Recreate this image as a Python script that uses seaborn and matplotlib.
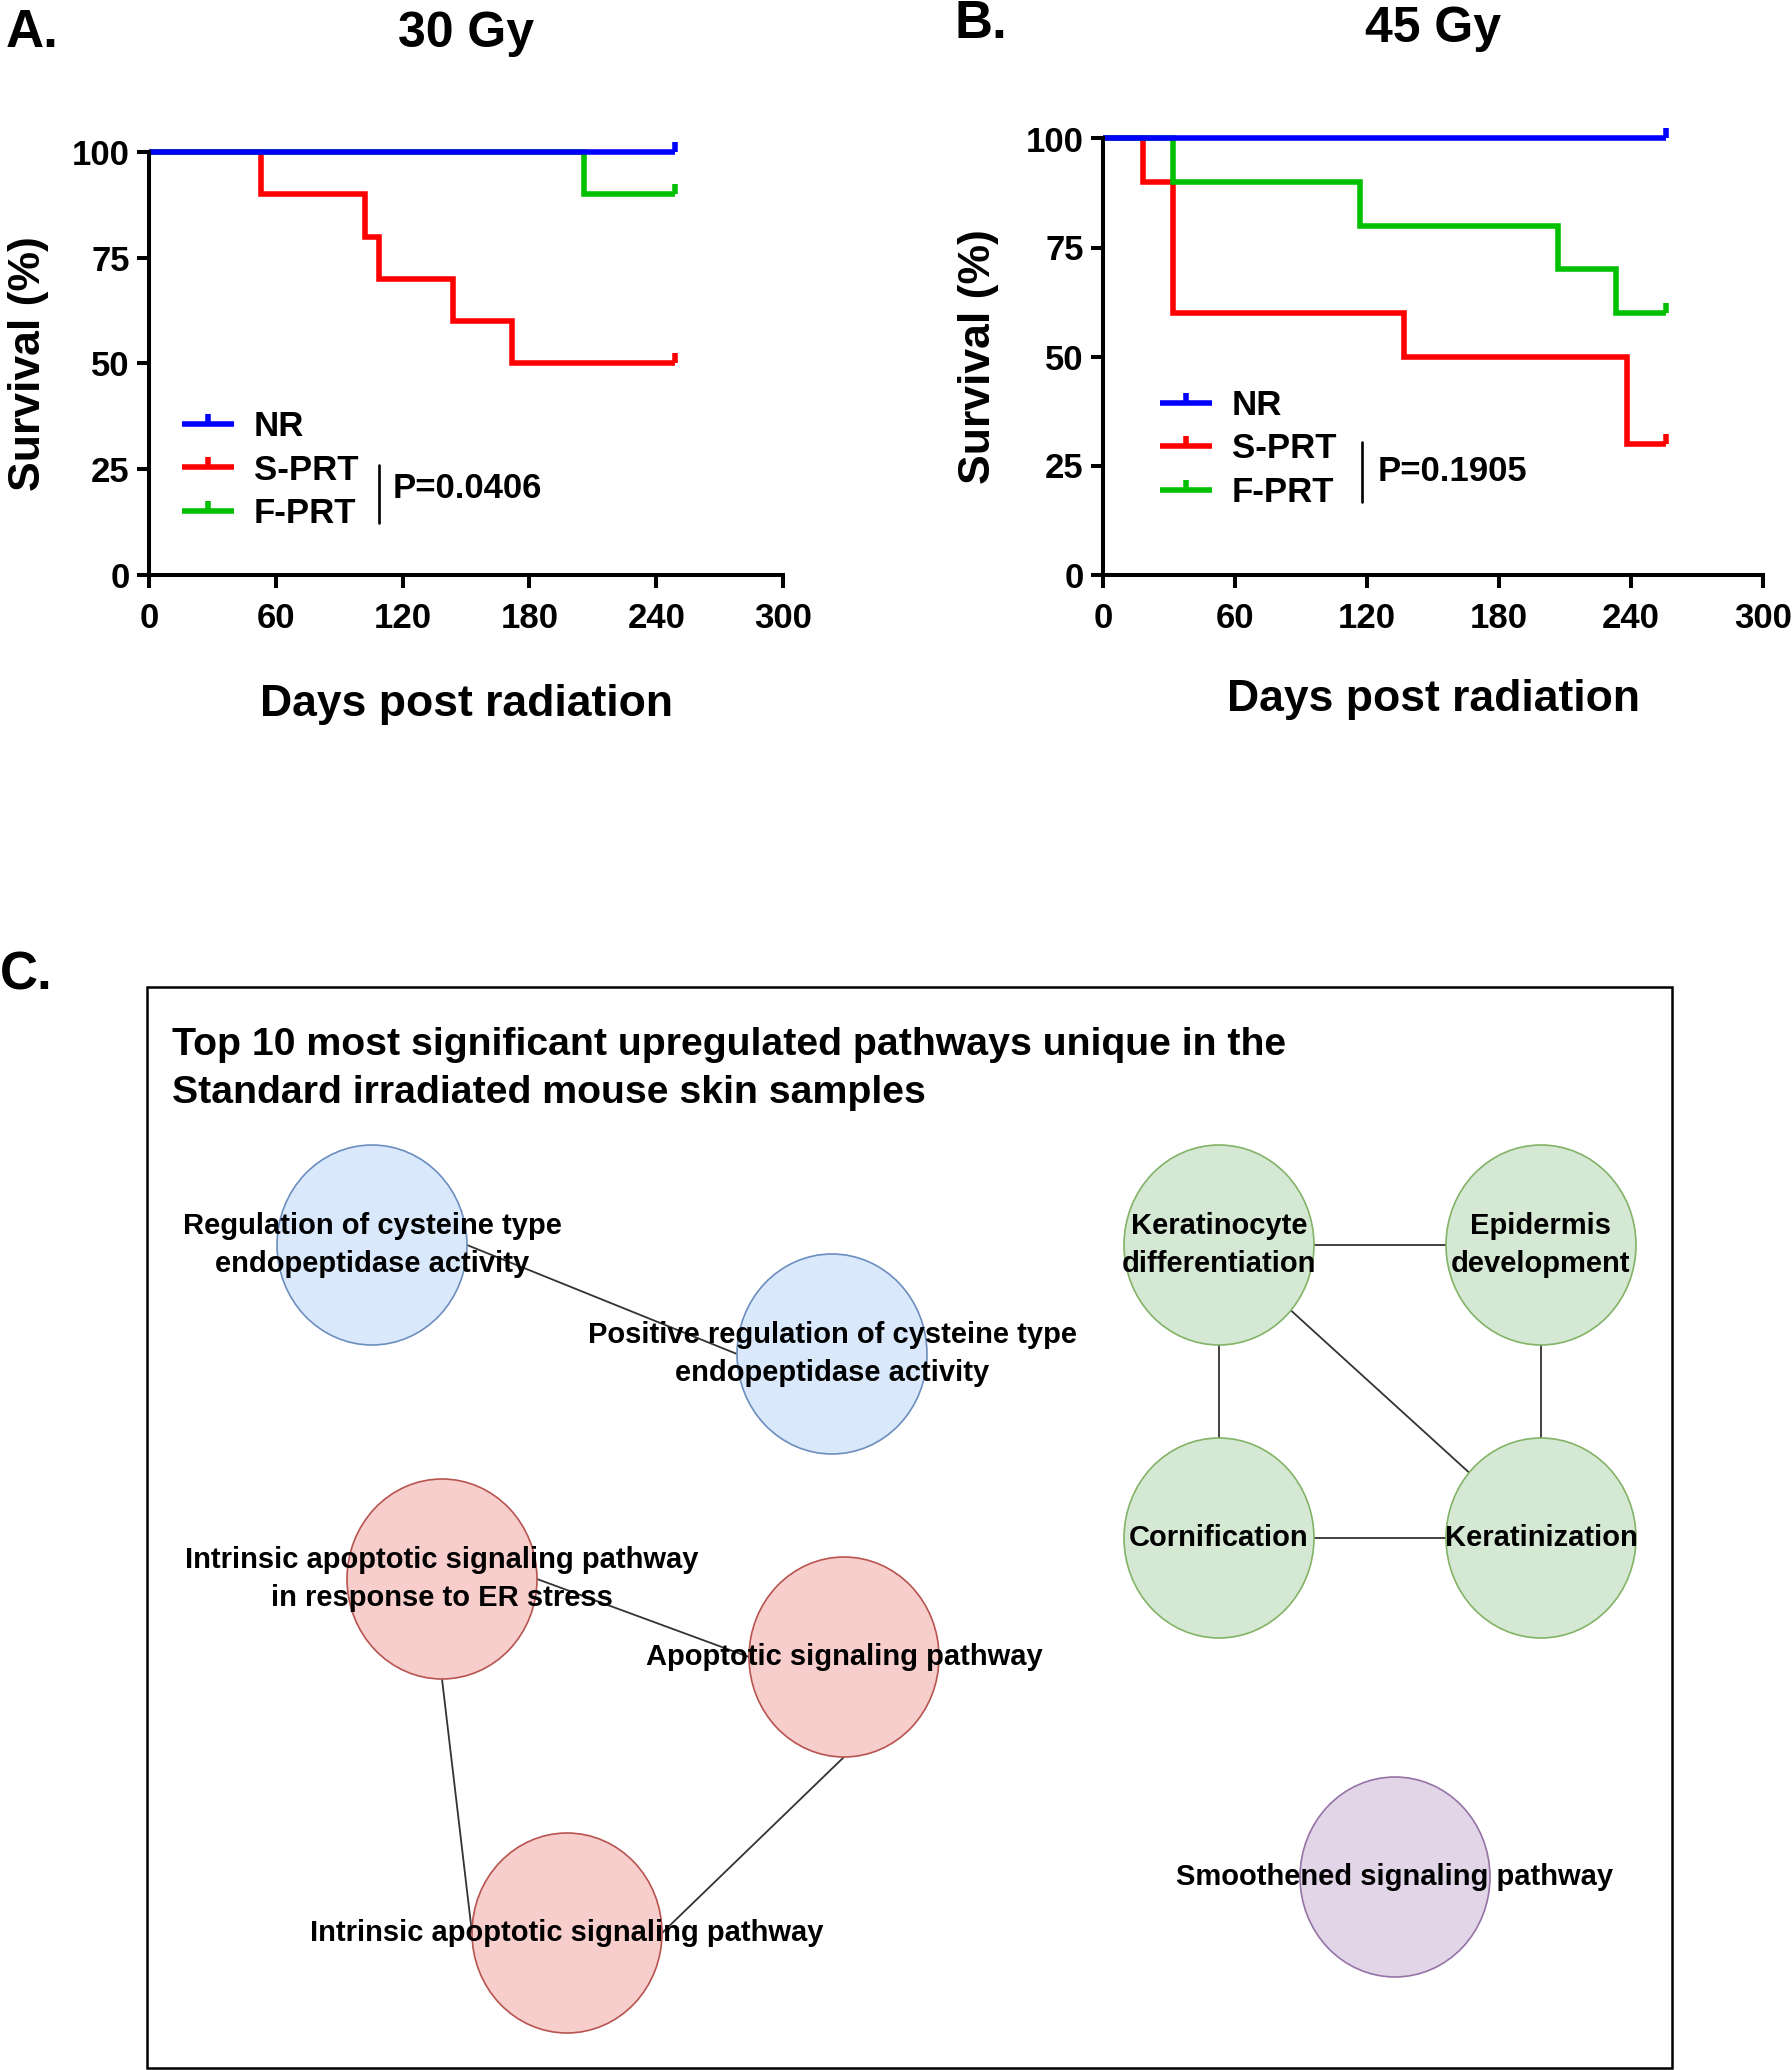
import numpy as np
import pandas as pd
import matplotlib
matplotlib.use("Agg")
import matplotlib.pyplot as plt
from matplotlib.patches import Ellipse, Rectangle
from matplotlib.lines import Line2D
import seaborn as sns

# --- Kaplan-Meier data (days, % survival) ---
groups = ["NR", "S-PRT", "F-PRT"]
colors = {"NR": "#0000FF", "S-PRT": "#FF0000", "F-PRT": "#00C000"}

days_30_nr = [0, 249]
surv_30_nr = [100, 100]
days_30_s = [0, 53, 102, 109, 144, 172, 249]
surv_30_s = [100, 90, 80, 70, 60, 50, 50]
days_30_f = [0, 206, 249]
surv_30_f = [100, 90, 90]

days_45_nr = [0, 256]
surv_45_nr = [100, 100]
days_45_s = [0, 18, 32, 137, 238, 256]
surv_45_s = [100, 90, 60, 50, 30, 30]
days_45_f = [0, 32, 117, 207, 233, 256]
surv_45_f = [100, 90, 80, 70, 60, 60]

p_30 = "P=0.0406"
p_45 = "P=0.1905"

x_ticks = [0, 60, 120, 180, 240, 300]
y_ticks = [0, 25, 50, 75, 100]

# --- pathway network ---
node_names = [
    "Regulation of cysteine type\nendopeptidase activity",
    "Positive regulation of cysteine type\nendopeptidase activity",
    "Keratinocyte\ndifferentiation",
    "Epidermis\ndevelopment",
    "Cornification",
    "Keratinization",
    "Intrinsic apoptotic signaling pathway\nin response to ER stress",
    "Apoptotic signaling pathway",
    "Intrinsic apoptotic signaling pathway",
    "Smoothened signaling pathway",
]
node_cluster = ["blue", "blue", "green", "green", "green", "green",
                "red", "red", "red", "purple"]
# (source, target, side on source, side on target)
edges = [
    (0, 1, "right", "left"),
    (2, 3, "right", "left"),
    (2, 4, "bottom", "top"),
    (3, 5, "bottom", "top"),
    (4, 5, "right", "left"),
    (2, 5, "auto", "auto"),
    (6, 7, "right", "left"),
    (6, 8, "bottom", "left"),
    (7, 8, "bottom", "right"),
]

# layout of the diagram in figure pixels
node_x = [372, 832, 1219, 1541, 1219, 1541, 442, 844, 567, 1395]
node_y = [1245, 1354, 1245, 1245, 1538, 1538, 1579, 1657, 1933, 1877]
RX, RY = 95, 100
fills = {"blue": "#dae8fc", "green": "#d5e8d4", "red": "#f8cecc", "purple": "#e1d5e7"}
strokes = {"blue": "#6c8ebf", "green": "#82b366", "red": "#b85450", "purple": "#9673a6"}

sns.set_style("ticks")
plt.rcParams["font.family"] = ["Liberation Sans", "DejaVu Sans"]
plt.rcParams["font.weight"] = "bold"
for key in ["text.color", "axes.labelcolor", "xtick.color", "ytick.color", "axes.edgecolor"]:
    plt.rcParams[key] = "black"

W, H = 1792, 2070
fig = plt.figure(figsize=(W / 100, H / 100), dpi=100)
LW = 4.0


def km_frame(days, survs):
    parts = [pd.DataFrame({"day": d, "survival": s, "group": g})
             for g, d, s in zip(groups, days, survs)]
    return pd.concat(parts, ignore_index=True)


def km_panel(rect, df, title, title_y, pval, leg_xy, bar_x, bar_y, txt_xy, xlab_y):
    ax = fig.add_axes(rect)
    sns.lineplot(data=df, x="day", y="survival", hue="group",
                 hue_order=["S-PRT", "F-PRT", "NR"], palette=colors,
                 drawstyle="steps-post", estimator=None, sort=False,
                 lw=LW, legend=False, clip_on=False,
                 solid_joinstyle="miter", solid_capstyle="butt", ax=ax)
    # censor ticks at the end of each curve
    for g in ["S-PRT", "F-PRT", "NR"]:
        sub = df[df["group"] == g]
        ax.plot(sub["day"].iloc[-1], sub["survival"].iloc[-1], marker=2,
                ms=7.5, mew=LW, color=colors[g], clip_on=False, ls="none")
    ax.set_xlim(0, 300)
    ax.set_ylim(0, 100)
    ax.set_xticks(x_ticks)
    ax.set_yticks(y_ticks)
    sns.despine(ax=ax)
    for s in ["left", "bottom"]:
        ax.spines[s].set_linewidth(2.9)
    ax.tick_params(width=2.9, length=9, labelsize=25)
    ax.tick_params(axis="x", pad=11)
    ax.tick_params(axis="y", pad=5)
    for lab in ax.get_xticklabels() + ax.get_yticklabels():
        lab.set_fontweight("bold")
    ax.set_xlabel("Days post radiation", fontsize=32, fontweight="bold")
    ax.set_ylabel("Survival (%)", fontsize=32, fontweight="bold")
    ax.xaxis.set_label_coords(0.5, xlab_y)
    ax.yaxis.set_label_coords(-0.157, 0.5)
    ax.text(0.5, title_y, title, transform=ax.transAxes, ha="center",
            va="center", fontsize=36, fontweight="bold")
    handles = [Line2D([0], [0], color=colors[g], lw=LW, marker=2, ms=7.5,
                      mew=LW, solid_capstyle="butt") for g in groups]
    ax.legend(handles, groups, loc="center left", bbox_to_anchor=leg_xy,
              frameon=False, handlelength=1.5, handletextpad=0.57,
              labelspacing=0.31, borderpad=0, borderaxespad=0, numpoints=1,
              prop={"size": 25, "weight": "bold"})
    ax.plot([bar_x, bar_x], bar_y, color="black", lw=1.9, clip_on=False)
    ax.text(txt_xy[0], txt_xy[1], pval, ha="left", va="center",
            fontsize=25, fontweight="bold")
    return ax


df30 = km_frame([days_30_nr, days_30_s, days_30_f], [surv_30_nr, surv_30_s, surv_30_f])
df45 = km_frame([days_45_nr, days_45_s, days_45_f], [surv_45_nr, surv_45_s, surv_45_f])

km_panel([149 / W, 1 - 574.5 / H, 634 / W, 422.5 / H], df30, "30 Gy", 1.28,
         p_30, (0.052, 0.247), 109, [12.2, 25.9], (115.5, 20.3), -0.259)
km_panel([1103 / W, 1 - 574.5 / H, 660 / W, 436 / H], df45, "45 Gy", 1.25,
         p_45, (0.086, 0.288), 117.6, [16.7, 30.3], (124.8, 23.6), -0.24)

# --- panel C: network diagram in pixel coordinates ---
axc = fig.add_axes([0, 0, 1, 1], zorder=-1)
axc.set_xlim(0, W)
axc.set_ylim(H, 0)
axc.axis("off")
axc.add_patch(Rectangle((147, 987), 1525, 1081, fill=False, ec="black", lw=1.8))
axc.text(172, 1069, "Top 10 most significant upregulated pathways unique in the\n"
         "Standard irradiated mouse skin samples", ha="left", va="center",
         fontsize=28.3, fontweight="bold", linespacing=1.45)


def anchor(i, side, j):
    cx, cy = node_x[i], node_y[i]
    if side == "right":
        return cx + RX, cy
    if side == "left":
        return cx - RX, cy
    if side == "top":
        return cx, cy - RY
    if side == "bottom":
        return cx, cy + RY
    dx, dy = node_x[j] - cx, node_y[j] - cy
    k = 1 / np.hypot(dx / RX, dy / RY)
    return cx + dx * k, cy + dy * k


for a, b, sa, sb in edges:
    x1, y1 = anchor(a, sa, b)
    x2, y2 = anchor(b, sb, a)
    axc.plot([x1, x2], [y1, y2], color="#333333", lw=1.3, zorder=1)

for name, c, x, y in zip(node_names, node_cluster, node_x, node_y):
    axc.add_patch(Ellipse((x, y), 2 * RX, 2 * RY, fc=fills[c], ec=strokes[c],
                          lw=1.2, zorder=2))
    axc.text(x, y, name, ha="center", va="center", fontsize=21,
             fontweight="bold", linespacing=1.45, zorder=3)

fig.text(6 / W, 1 - 33 / H, "A.", fontsize=38, fontweight="bold", va="center", ha="left")
fig.text(955 / W, 1 - 24 / H, "B.", fontsize=38, fontweight="bold", va="center", ha="left")
fig.text(0 / W, 1 - 975 / H, "C.", fontsize=38, fontweight="bold", va="center", ha="left")

fig.savefig("out.png", dpi=100)
